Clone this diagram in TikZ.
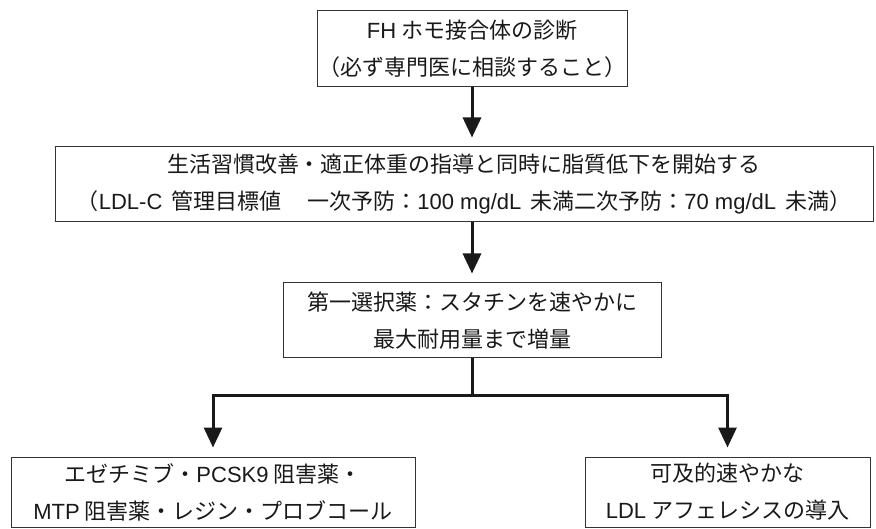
\documentclass[tikz,border=0pt]{standalone}
\usepackage{fontspec}
\setmainfont{Noto Sans CJK JP}
\newfontfamily\latin{Liberation Sans}
\usetikzlibrary{arrows.meta}
\newcommand\lt[1]{{\latin #1}}
\newcommand\wsp{\hspace{9pt}}
\begin{document}
\begin{tikzpicture}[x=1pt,y=-1pt,
  box/.style={draw=black!80, line width=1pt, align=center, inner sep=0pt,
    font=\fontsize{22pt}{37pt}\selectfont, text=black!90},
  flow/.style={line width=3pt, draw=black!90, -{Triangle[width=18pt,length=20pt]}, shorten >=9pt},
  bar/.style={line width=3pt, draw=black!90}]
\useasboundingbox (0,0) rectangle (876,529);
\node[box, minimum width=310pt, minimum height=76pt] (b1) at (472,49)
  {\lt{FH} ホモ接合体の診断\\（必ず専門医に相談すること）};
\node[box, minimum width=818pt, minimum height=75pt] (b2) at (464,184.5)
  {生活習慣改善・適正体重の指導と同時に脂質低下を開始する\\（\lt{LDL-C}\wsp 管理目標値\hspace{26pt}一次予防：\lt{100 mg/dL}\wsp 未満二次予防：\lt{70 mg/dL}\wsp 未満）};
\node[box, minimum width=378pt, minimum height=75pt] (b3) at (472,320.5)
  {第一選択薬：スタチンを速やかに\\最大耐用量まで増量};
\node[box, minimum width=404pt, minimum height=70pt] (b4) at (213,492)
  {エゼチミブ・\lt{PCSK9} 阻害薬・\\\lt{MTP} 阻害薬・レジン・プロブコール};
\node[box, minimum width=285pt, minimum height=70pt] (b5) at (727.5,492)
  {可及的速やかな\\\lt{LDL} アフェレシスの導入};
\coordinate (j) at (472,396);
\draw[flow] (b1.south) -- (b1.south |- b2.north);
\draw[flow] (b1.south |- b2.south) -- (b3.north);
\draw[bar] (b3.south) -- (j);
\draw[flow] (j) -| (b4.north);
\draw[flow] (j) -| (b5.north);
\end{tikzpicture}
\end{document}
